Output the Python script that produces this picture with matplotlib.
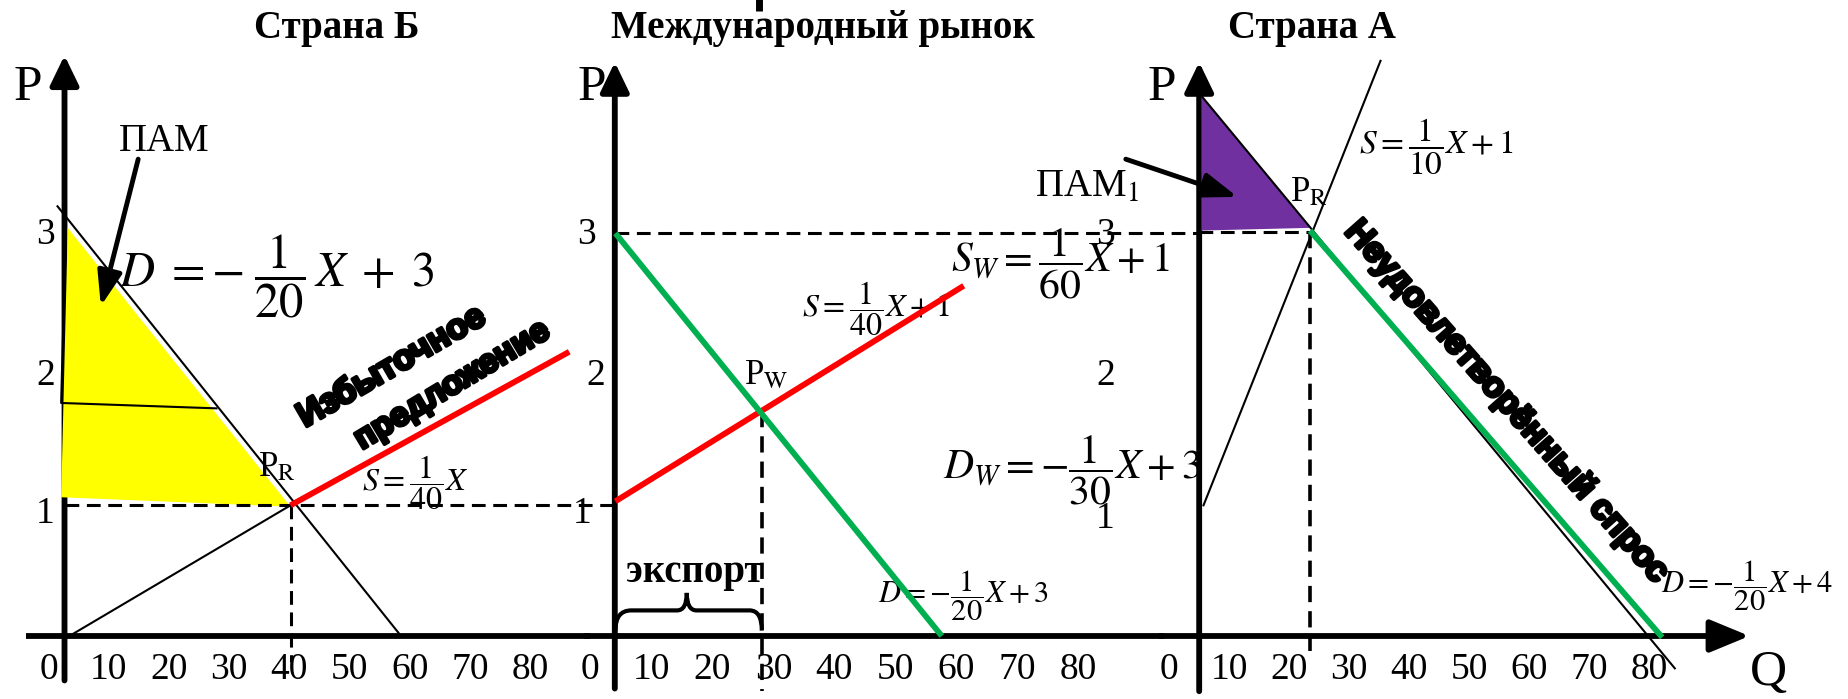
import matplotlib.pyplot as plt
import matplotlib.patheffects as pe
from matplotlib.path import Path
from matplotlib.patches import PathPatch, Polygon

plt.rcParams['font.family'] = ['Liberation Serif', 'DejaVu Serif']
plt.rcParams['mathtext.fontset'] = 'stix'

# axis tick values
q_ticks = [0, 10, 20, 30, 40, 50, 60, 70, 80]
p_ticks = [1, 2, 3]

# Страна Б  (Q, P)
b_demand_q, b_demand_p = [1.5, 58.2], [3.19, 0.02]
b_supply_q, b_supply_p = [3.1, 40.2], [-0.01, 0.97]
b_excess_q, b_excess_p = [40.2, 86.5], [0.97, 2.11]
b_pam_q, b_pam_p = [3.2, 2.1, 40.2], [3.03, 1.03, 0.96]
b_edge_q, b_edge_p = [2.9, 2.1, 27.9], [3.07, 1.73, 1.69]
b_eq_q, b_eq_p = 40.2, 0.97

# Международный рынок
w_demand_q, w_demand_p = [4.1, 57.6], [2.99, 0.0]
w_supply_q, w_supply_p = [4.1, 61.2], [1.0, 2.6]
w_eq_q, w_eq_p = 28.1, 1.67
export_q = [4.1, 15.8, 28.1]
export_p = [0.04, 0.19, 0.32]

# Страна А
a_demand_q, a_demand_p = [5.4, 84.3], [4.01, -0.24]
a_unmet_q, a_unmet_p = [23.5, 82.2], [3.01, -0.01]
a_supply_q, a_supply_p = [5.75, 35.25], [0.97, 4.27]
a_pam_q, a_pam_p = [5.4, 5.4, 23.5], [4.01, 3.01, 3.03]
a_eq_q, a_eq_p = 23.5, 3.0

RED = '#FF0000'
GREEN = '#00B050'
YELLOW = '#FFFF00'
PURPLE = '#7030A0'
DASH = (0, (4.5, 2.5))

W, H = 1849, 699
P0, PU = 636.0, 134.7   # pixel row of P=0, pixels per unit of P

fig = plt.figure(figsize=(W / 100, H / 100), dpi=100)


def panel(left, right, q0, qu):
    ax = fig.add_axes([left / W, 0, (right - left) / W, 1])
    ax.set_xlim((left - q0) / qu, (right - q0) / qu)
    ax.set_ylim((P0 - H) / PU, P0 / PU)
    ax.axis('off')
    return ax


def arrow(ax, start, tip, lw=4.2, scale=30, hl=0.6, hw=0.29):
    ax.annotate('', xy=tip, xytext=start, annotation_clip=False,
                arrowprops=dict(arrowstyle=f'-|>,head_length={hl},head_width={hw}',
                                lw=lw, color='black', shrinkA=0, shrinkB=0,
                                mutation_scale=scale, clip_on=False))


def ticks(ax, p_label_q, p_label_p):
    for q in q_ticks:
        ax.text(q, -0.25, str(q), ha='center', va='center', fontsize=27)
    for q, p, t in zip(p_label_q, p_label_p, p_ticks):
        ax.text(q, p, str(t), ha='center', va='center', fontsize=27)


ax1 = panel(0, 590, 48.5, 6.02)
ax2 = panel(590, 1160, 590.4, 6.1)
ax3 = panel(1160, 1849, 1169.0, 6.0)

bold_sans = dict(family=['Liberation Sans Narrow', 'Liberation Sans'], fontstretch='condensed',
                 fontweight='bold', path_effects=[pe.withStroke(linewidth=2.6, foreground='black')])

# ---------- Страна Б ----------
ax1.plot([-3.8, 90], [0, 0], color='black', lw=4.2, solid_capstyle='butt')
arrow(ax1, (2.66, -0.33), (2.66, 4.31))
ax1.add_patch(Polygon(list(zip(b_pam_q, b_pam_p)), closed=True, facecolor=YELLOW,
                      edgecolor='none', zorder=3))
ax1.plot(b_edge_q, b_edge_p, color='black', lw=1.5, zorder=4)
ax1.plot(b_demand_q, b_demand_p, color='black', lw=1.5, zorder=4)
ax1.plot(b_supply_q, b_supply_p, color='black', lw=1.5, zorder=4)
ax1.plot([2.66, 93.9], [b_eq_p, b_eq_p], color='black', lw=2.2, ls=DASH, zorder=5, clip_on=False)
ax1.plot([b_eq_q, b_eq_q], [b_eq_p, -0.19], color='black', lw=2.2, ls=DASH, zorder=5)
ax1.plot(b_excess_q, b_excess_p, color=RED, lw=4.2, zorder=6, solid_capstyle='butt')
arrow(ax1, (14.9, 3.54), (8.7, 2.45), lw=3.5, scale=30, hl=0.7, hw=0.25)

ax1.text(47.8, 4.51, 'Страна Б', ha='center', va='center', fontsize=28, fontweight='bold')
ax1.text(-3.4, 4.07, 'P', ha='center', va='center', fontsize=37)
ax1.text(19.2, 3.67, 'ПАМ', ha='center', va='center', fontsize=28)
ax1.text(38.0, 2.67, r'$D\;=-\;\dfrac{1}{20}\,X\;+\;3$', ha='center', va='center', fontsize=35, zorder=7)
ax1.text(60.9, 1.14, r'$S=\dfrac{1}{40}X$', ha='center', va='center', fontsize=23)
ax1.text(37.9, 1.25, r'P$_{\mathrm{R}}$', ha='center', va='center', fontsize=25, zorder=7)
ax1.text(57.0, 2.0, 'Избыточное', ha='center', va='center', rotation=30,
         rotation_mode='anchor', fontsize=25, zorder=7, **bold_sans)
ax1.text(67.1, 1.86, 'предложение', ha='center', va='center', rotation=31,
         rotation_mode='anchor', fontsize=24, zorder=7, **bold_sans)
ticks(ax1, [-0.5, -0.5, -0.5], [0.91, 1.93, 2.98])

# ---------- Международный рынок ----------
ax2.plot([-1, 94], [0, 0], color='black', lw=4.2, solid_capstyle='butt', clip_on=False)
arrow(ax2, (4.0, -0.39), (4.0, 4.26))
ax2.plot([27.6, 27.6], [4.64, 4.76], color='black', lw=5, solid_capstyle='butt', clip_on=False)
ax2.plot([4.0, 99.8], [w_demand_p[0], w_demand_p[0]], color='black', lw=2.2, ls=DASH,
         zorder=5, clip_on=False)
ax2.plot([w_eq_q, w_eq_q], [w_eq_p, -0.41], color='black', lw=2.6, ls=DASH, zorder=5)
ax2.plot(w_supply_q, w_supply_p, color=RED, lw=4.2, zorder=6, solid_capstyle='butt')
ax2.plot(w_demand_q, w_demand_p, color=GREEN, lw=4.2, zorder=6, solid_capstyle='butt')

bq, bp = export_q, export_p
brace = Path([(bq[0], bp[0]), (bq[0], bp[1]), (bq[0] + 2.6, bp[1]),
              (bq[1] - 1.6, bp[1]), (bq[1], bp[1]), (bq[1], bp[2]),
              (bq[1], bp[1]), (bq[1] + 1.6, bp[1]),
              (bq[2] - 2.0, bp[1]), (bq[2], bp[1]), (bq[2], bp[0])],
             [Path.MOVETO, Path.CURVE3, Path.CURVE3,
              Path.LINETO, Path.CURVE3, Path.CURVE3,
              Path.CURVE3, Path.CURVE3,
              Path.LINETO, Path.CURVE3, Path.CURVE3])
ax2.add_patch(PathPatch(brace, facecolor='none', edgecolor='black', lw=3, zorder=5))

ax2.text(38.2, 4.51, 'Международный рынок', ha='center', va='center', fontsize=28, fontweight='bold')
ax2.text(0.25, 4.07, 'P', ha='center', va='center', fontsize=37)
ax2.text(28.8, 1.93, r'P$_{\mathrm{W}}$', ha='center', va='center', fontsize=25)
ax2.text(46.9, 2.43, r'$S=\dfrac{1}{40}X+1$', ha='center', va='center', fontsize=23)
ax2.text(77.0, 2.76, r'$S_W=\dfrac{1}{60}X+1$', ha='center', va='center', fontsize=30)
ax2.text(79.0, 1.23, r'$D_W=-\dfrac{1}{30}X+3$', ha='center', va='center', fontsize=30)
ax2.text(61.2, 0.30, r'$D=-\dfrac{1}{20}X+3$', ha='center', va='center', fontsize=22)
ax2.text(17.1, 0.47, 'экспорт', ha='center', va='center', fontsize=28, fontweight='bold')
ticks(ax2, [-1.4, 0.9, -0.7], [0.91, 1.93, 2.98])

# ---------- Страна А ----------
arrow(ax3, (-1.5, 0), (96.75, 0), scale=30, hl=0.8, hw=0.33)
arrow(ax3, (5.03, -0.41), (5.03, 4.26))
ax3.add_patch(Polygon(list(zip(a_pam_q, a_pam_p)), closed=True, facecolor=PURPLE,
                      edgecolor='none', zorder=3))
ax3.plot(a_demand_q, a_demand_p, color='black', lw=1.5, zorder=4)
ax3.plot(a_supply_q, a_supply_p, color='black', lw=1.5, zorder=4)
ax3.plot([5.03, a_eq_q], [a_eq_p, a_eq_p], color='black', lw=2.2, ls=DASH, zorder=5)
ax3.plot([a_eq_q, a_eq_q], [a_eq_p, -0.11], color='black', lw=2.6, ls=DASH, zorder=5)
ax3.plot(a_unmet_q, a_unmet_p, color=GREEN, lw=4.2, zorder=6, solid_capstyle='butt')
arrow(ax3, (-7.2, 3.54), (11.4, 3.26), lw=3.5, scale=30, hl=0.7, hw=0.25)

ax3.text(23.9, 4.51, 'Страна А', ha='center', va='center', fontsize=28, fontweight='bold')
ax3.text(-1.25, 4.07, 'P', ha='center', va='center', fontsize=37)
ax3.text(-13.7, 3.33, r'ПАМ$_1$', ha='center', va='center', fontsize=28)
ax3.text(23.3, 3.29, r'P$_{\mathrm{R}}$', ha='center', va='center', fontsize=25)
ax3.text(44.5, 3.63, r'$S=\dfrac{1}{10}X+1$', ha='center', va='center', fontsize=24)
ax3.text(96.4, 0.37, r'$D=-\dfrac{1}{20}X+4$', ha='center', va='center', fontsize=22)
ax3.text(56.3, 1.74, 'Неудовлетворённый спрос', ha='center', va='center', rotation=-48.5,
         rotation_mode='anchor', fontsize=25, zorder=7, **bold_sans)
ax3.text(99.95, -0.27, 'Q', ha='center', va='center', fontsize=37)
for q in q_ticks:
    ax3.text(q, -0.25, str(q), ha='center', va='center', fontsize=27)
for p, t in zip([0.87, 1.93, 2.98], p_ticks):
    ax3.text(-10.6, p, str(t), ha='center', va='center', fontsize=27)

fig.savefig('out.png', dpi=100)
